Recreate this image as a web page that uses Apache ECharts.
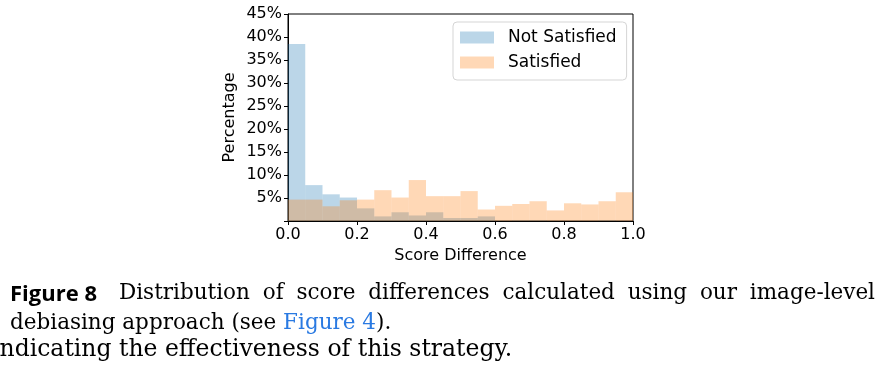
<!DOCTYPE html>
<html>
<head>
<meta charset="utf-8">
<script src="https://cdn.jsdelivr.net/npm/echarts@6/dist/echarts.min.js"></script>
<style>
html,body{margin:0;padding:0;background:#fff;}
#chart{width:882px;height:381px;}
</style>
</head>
<body>
<div id="chart"></div>
<script>
// Histogram bin edges (score difference)
const binStarts = [0.00,0.05,0.10,0.15,0.20,0.25,0.30,0.35,0.40,0.45,0.50,0.55,0.60,0.65,0.70,0.75,0.80,0.85,0.90,0.95];
const binEnds   = [0.05,0.10,0.15,0.20,0.25,0.30,0.35,0.40,0.45,0.50,0.55,0.60,0.65,0.70,0.75,0.80,0.85,0.90,0.95,1.00];
// Percentages per bin
const notSatisfied = [38.5,7.8,5.8,5.1,2.75,1.0,1.9,1.2,1.9,0.65,0.65,1.0,0.05,0.15,0.15,0.05,0.05,0.05,0.15,0.05];
const satisfied    = [4.65,4.65,3.2,4.5,4.65,6.7,5.1,8.9,5.4,5.4,6.5,2.5,3.3,3.7,4.3,2.3,3.85,3.6,4.3,6.25];
const xTicks = [0,0.2,0.4,0.6,0.8,1.0];
const yTicks = [5,10,15,20,25,30,35,40,45];
const seriesNames = ['Not Satisfied','Satisfied'];
const captionLine1 = 'Distribution of score differences calculated using our image-level';

const chart = echarts.init(document.getElementById('chart'), null, {renderer:'canvas'});

function toData(vals){
  return vals.map((v,i)=>[binStarts[i], binEnds[i], v]);
}
function renderBar(params, api){
  const p0 = api.coord([api.value(0), api.value(2)]);
  const p1 = api.coord([api.value(1), 0]);
  return {
    type:'rect',
    shape:{x:p0[0], y:p0[1], width:p1[0]-p0[0], height:p1[1]-p0[1]},
    style:{fill: api.visual('color')}
  };
}
const colors = ['rgba(31,119,180,0.3)','rgba(255,127,14,0.3)'];
const font = 'DejaVu Sans';
const serif = 'DejaVu Serif';

// justify caption line 1 between x=119 and x=875
const capFont = '21.5px "'+serif+'"';
const mctx = document.createElement('canvas').getContext('2d');
mctx.font = capFont;
const words = captionLine1.split(' ');
const widths = words.map(w=>mctx.measureText(w).width);
const totalW = widths.reduce((a,b)=>a+b,0);
const lineL = 119, lineR = 875;
const gap = (lineR-lineL-totalW)/(words.length-1);

const graphics = [
  {type:'text', left:10, top:284, style:{text:'Figure 8', font:'bold 22px "Open Sans"', fill:'#000'}}
];
let cx = lineL;
words.forEach((w,i)=>{
  graphics.push({type:'text', x:cx, y:293, style:{text:w, font:capFont, fill:'#000', verticalAlign:'middle'}});
  cx += widths[i] + gap;
});
graphics.push({type:'text', x:10, y:323, style:{
  text:'debiasing approach (see {b|Figure 4}).',
  font:capFont, fill:'#000', verticalAlign:'middle',
  rich:{b:{fill:'#2a7ae2', font:capFont}}
}});
graphics.push({type:'text', x:-8, y:350, style:{text:'indicating the effectiveness of this strategy.', font:'23.5px "'+serif+'"', fill:'#000', verticalAlign:'middle'}});

chart.setOption({
  animation:false,
  backgroundColor:'#fff',
  color: colors,
  grid:{left:288, top:14, width:345, height:207, show:true, borderColor:'#000', borderWidth:1, backgroundColor:'transparent'},
  legend:{
    orient:'vertical', left:453, top:22,
    data: seriesNames,
    icon:'rect', itemWidth:34, itemHeight:12, itemGap:8,
    padding:[7,10,9,7],
    backgroundColor:'rgba(255,255,255,0.8)',
    borderColor:'#d5d5d5', borderWidth:1, borderRadius:4,
    textStyle:{fontFamily:font, fontSize:17, color:'#000', lineHeight:17, padding:[0,0,0,9]}
  },
  xAxis:{
    type:'value', min:0, max:1, interval:0.2,
    name:'Score Difference', nameLocation:'middle', nameGap:23,
    nameTextStyle:{fontFamily:font, fontSize:16, color:'#000'},
    axisLine:{show:true, lineStyle:{color:'#000', width:1}},
    axisTick:{show:true, inside:false, length:4, lineStyle:{color:'#000'}},
    axisLabel:{fontFamily:font, fontSize:16, color:'#000', margin:6, formatter:v=>xTicks.indexOf(v)>=0? v.toFixed(1):''},
    splitLine:{show:false}
  },
  yAxis:{
    type:'value', min:0, max:45, interval:5,
    name:'Percentage', nameLocation:'middle', nameGap:50, nameRotate:90,
    nameTextStyle:{fontFamily:font, fontSize:16, color:'#000'},
    axisLine:{show:true, lineStyle:{color:'#000', width:1}},
    axisTick:{show:true, inside:false, length:4, lineStyle:{color:'#000'}},
    axisLabel:{fontFamily:font, fontSize:16, color:'#000', margin:6, formatter:v=>yTicks.indexOf(v)>=0? v+'%':''},
    splitLine:{show:false}
  },
  series:[
    {name:seriesNames[0], type:'custom', renderItem:renderBar, encode:{x:[0,1], y:2}, data:toData(notSatisfied), itemStyle:{color:colors[0]}},
    {name:seriesNames[1], type:'custom', renderItem:renderBar, encode:{x:[0,1], y:2}, data:toData(satisfied), itemStyle:{color:colors[1]}}
  ],
  graphic: graphics
});
</script>
</body>
</html>
